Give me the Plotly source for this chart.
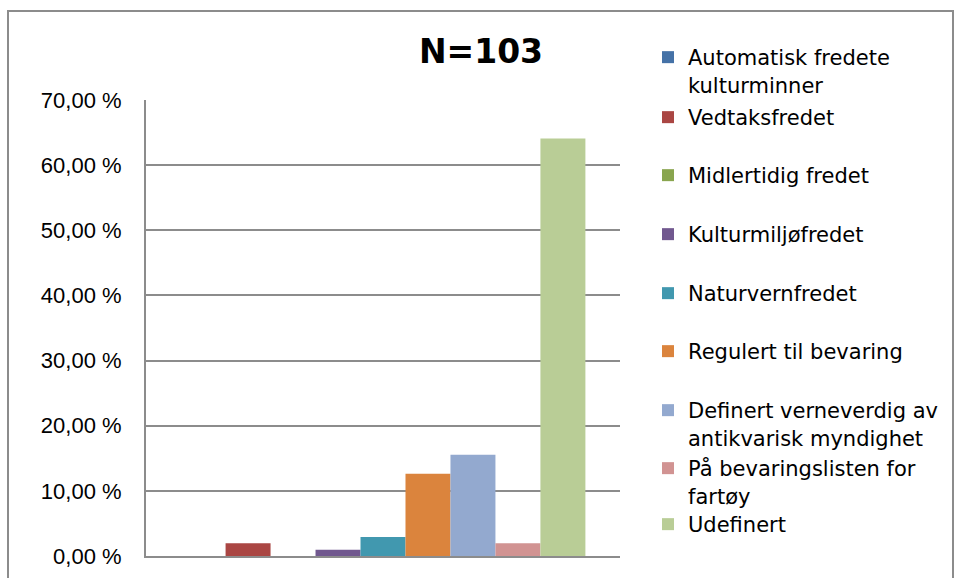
import plotly.graph_objects as go

W, H = 954, 578

categories = ["Alle"]
series_names = [
    "Automatisk fredete<br>kulturminner",
    "Vedtaksfredet",
    "Midlertidig fredet",
    "Kulturmiljøfredet",
    "Naturvernfredet",
    "Regulert til bevaring",
    "Definert verneverdig av<br>antikvarisk myndighet",
    "På bevaringslisten for<br>fartøy",
    "Udefinert",
]
series_values = [0.0, 1.94, 0.0, 0.97, 2.91, 12.62, 15.53, 1.94, 64.08]
series_colors = ["#4572A7", "#AA4643", "#89A54E", "#71588F", "#4198AF",
                 "#DB843D", "#93A9CF", "#D19392", "#B9CD96"]
tick_values = [0, 10, 20, 30, 40, 50, 60, 70]
tick_labels = ["0,00 %", "10,00 %", "20,00 %", "30,00 %", "40,00 %",
               "50,00 %", "60,00 %", "70,00 %"]
title_text = "N=103"

# layout: plot area in pixels
L, R, T, B = 146, 620, 100, 556
legend_first_line_px = [57, 117, 175, 234, 293, 351, 410, 468, 524]

fig = go.Figure()
for i, (name, val, col) in enumerate(zip(series_names, series_values, series_colors)):
    lg = "legend" if i == 0 else f"legend{i+1}"
    fig.add_trace(go.Bar(x=categories, y=[val], name=name, marker_color=col,
                         marker_line_width=0, legend=lg, showlegend=True))

layout = dict(
    width=W, height=H,
    paper_bgcolor="white", plot_bgcolor="white",
    margin=dict(l=L, r=W - R, t=T, b=H - B, autoexpand=False),
    barmode="group", bargap=0.146, bargroupgap=0,
    title=dict(text=f"<b>{title_text}</b>", x=481 / W, xanchor="center",
               y=1 - 51 / H, yanchor="middle", xref="container", yref="container",
               font=dict(family="DejaVu Sans", size=33, color="black")),
    xaxis=dict(showticklabels=False, showgrid=False, showline=True,
               linecolor="#8c8c8c", linewidth=2, ticks="", zeroline=False),
    yaxis=dict(range=[0, 70], tickvals=tick_values, ticktext=tick_labels,
               showgrid=True, gridcolor="#8c8c8c", gridwidth=2,
               showline=True, linecolor="#8c8c8c", linewidth=2,
               zeroline=False, ticks="", ticklabelstandoff=18,
               tickfont=dict(family="Liberation Sans", size=22, color="black")),
    shapes=[dict(type="rect", xref="paper", yref="paper",
                 x0=(8 - L) / (R - L), x1=(953 - L) / (R - L),
                 y0=(B - 590) / (B - T), y1=(B - 11) / (B - T),
                 line=dict(color="#8c8c8c", width=2), fillcolor="rgba(0,0,0,0)",
                 layer="below")],
)
for i, ypx in enumerate(legend_first_line_px):
    key = "legend" if i == 0 else f"legend{i+1}"
    layout[key] = dict(
        x=648 / W, xanchor="left", xref="container",
        y=1 - (ypx - 20) / H, yanchor="top", yref="container",
        bgcolor="rgba(0,0,0,0)", borderwidth=0, valign="top",
        font=dict(family="DejaVu Sans", size=21, color="black"),
        itemclick=False,
    )
fig.update_layout(**layout)
fig.write_html("out.html", config={"displayModeBar": False},
               post_script="document.body.style.margin='0px';")
